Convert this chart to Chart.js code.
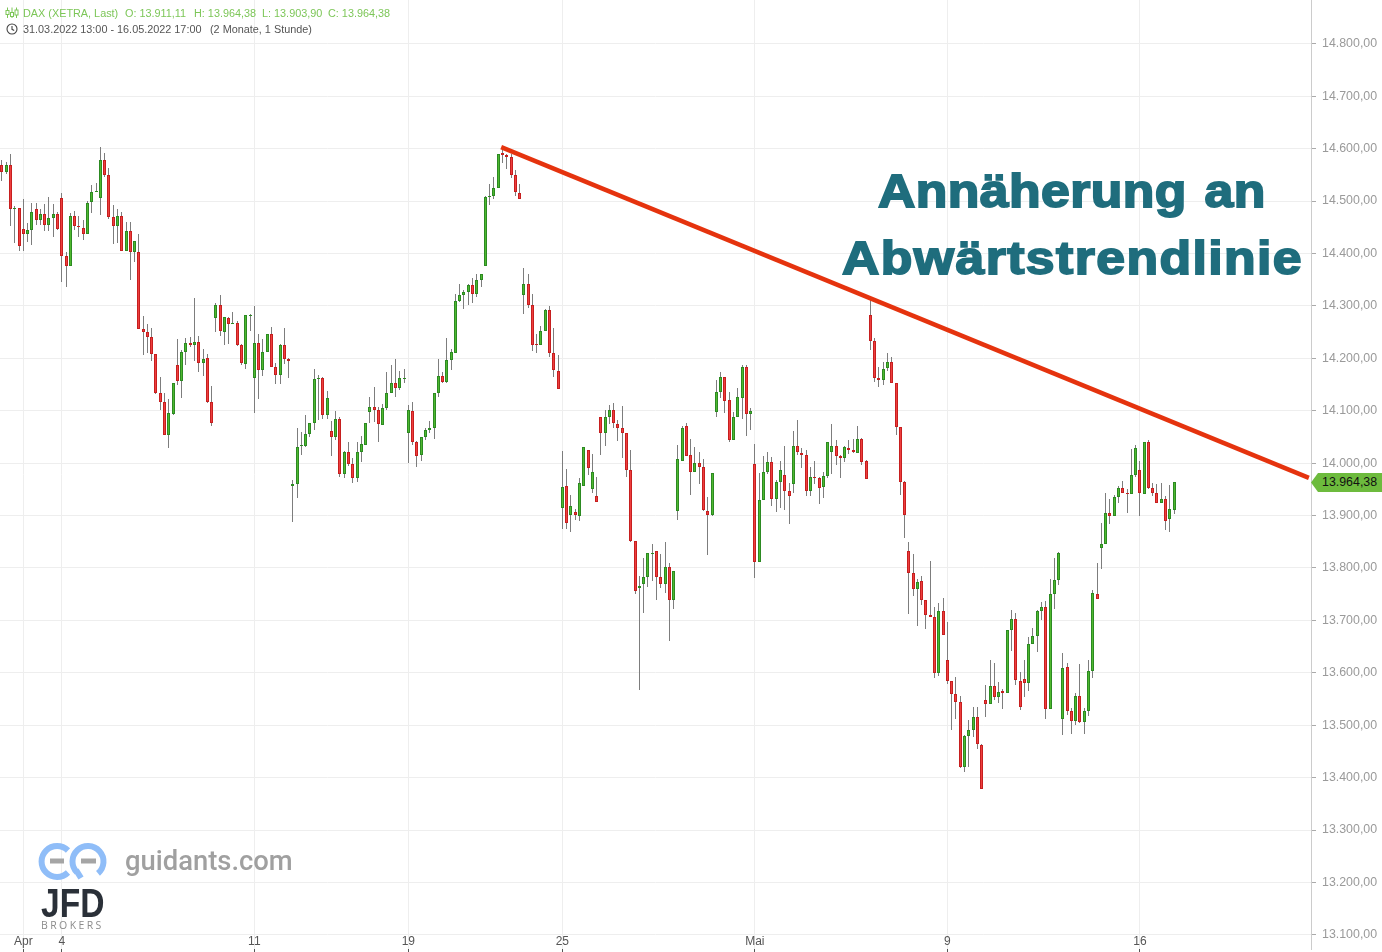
<!DOCTYPE html>
<html><head><meta charset="utf-8">
<script src="https://cdn.jsdelivr.net/npm/chart.js@4"></script>
<style>
html,body{margin:0;padding:0;background:#fff;overflow:hidden}
#wrap{position:relative;width:1382px;height:952px;font-family:"Liberation Sans",Arial,sans-serif}
canvas{position:absolute;left:0;top:0}
.t{position:absolute;white-space:pre;line-height:14px;font-size:10.85px}
.g{color:#7cc657}.d{color:#555}
.big{position:absolute;white-space:pre;font-family:"Liberation Sans";font-weight:700;font-size:46px;color:#1f6d7d;line-height:60px;letter-spacing:1.25px;-webkit-text-stroke:1.8px #1f6d7d;transform:scaleX(1.125);transform-origin:0 0}
#tag{position:absolute;left:1311px;top:473px;width:71px;height:19px;background:#6dbb3d;clip-path:polygon(0 50%,7px 0,100% 0,100% 100%,7px 100%);}
#tag span{position:absolute;left:11px;top:2px;font-size:12.4px;line-height:15px;color:#111}
</style></head><body>
<div id="wrap">
<canvas id="c" width="1382" height="952"></canvas>
<svg style="position:absolute;left:5px;top:7px" width="14" height="28" viewBox="0 0 14 28" fill="none">
<g stroke="#7cc657" stroke-width="1"><path d="M2.5 0.5V11M7 0.5V11M11.5 0.5V11"/><rect x="1" y="3.5" width="3" height="4" fill="#fff"/><rect x="5.5" y="5.5" width="3" height="4" fill="#fff"/><rect x="10" y="3" width="3" height="5" fill="#fff"/></g>
<g stroke="#444" stroke-width="1.1"><circle cx="7" cy="22" r="5"/><path d="M7 19V22.3L9.2 23.5"/></g></svg>
<div class="t g" style="left:23px;top:6px">DAX (XETRA, Last)</div>
<div class="t g" style="left:125px;top:6px">O: 13.911,11</div>
<div class="t g" style="left:194px;top:6px">H: 13.964,38</div>
<div class="t g" style="left:262px;top:6px">L: 13.903,90</div>
<div class="t g" style="left:328px;top:6px">C: 13.964,38</div>
<div class="t d" style="left:23px;top:22px">31.03.2022 13:00 - 16.05.2022 17:00</div>
<div class="t d" style="left:210px;top:22px">(2 Monate, 1 Stunde)</div>
<div class="big" style="left:878px;top:160.5px;letter-spacing:.35px;word-spacing:2.7px">Annäherung an</div>
<div class="big" style="left:842px;top:228px">Abwärtstrendlinie</div>
<div id="tag"><span>13.964,38</span></div>
<svg style="position:absolute;left:36px;top:840px" width="74" height="44" viewBox="0 0 74 44" fill="none">
<g stroke="#8fbdf8" stroke-width="6"><path d="M32 10.5A15.5 15.5 0 1 0 32 32.5"/><path d="M41 32.5A15.5 15.5 0 1 1 62 33.4"/><path d="M40 30L45 38"/></g>
<g stroke="#a5a5a5" stroke-width="5"><path d="M14 21H28M45 21H60"/></g></svg>
<div style="position:absolute;left:125px;top:844px;font:500 27.4px/34px Roboto;color:#a0a0a0">guidants.com</div>
<div style="position:absolute;left:41px;top:883px;font:700 40px/40px 'Liberation Sans';color:#2a3038;transform:scaleX(.84);transform-origin:0 0">JFD</div>
<div style="position:absolute;left:41px;top:919px;font:400 10.5px/12px 'Open Sans';color:#8c8c8c;letter-spacing:2.4px">BROKERS</div>
</div>
<script>
const opens=[14568,14556,14569,14484,14486,14447,14438,14445,14484,14463,
14476,14455,14468,14476,14505,14396,14377,14472,14453,14449,
14438,14499,14517,14505,14579,14549,14470,14453,14472,14405,
14442,14403,14402,14255,14251,14241,14209,14133,14117,14054,
14094,14188,14157,14213,14230,14226,14232,14192,14201,14117,
14276,14302,14251,14276,14266,14268,14226,14190,14281,14163,
14230,14178,14213,14247,14184,14169,14226,14199,13956,13961,
14033,14033,14056,14077,14161,14163,14091,14062,14050,14085,
13979,14022,13999,13972,14022,14035,14098,14108,14102,14073,
14106,14134,14152,14144,14161,14058,14100,14041,14016,14050,
14064,14068,14133,14167,14154,14197,14211,14310,14321,14327,
14339,14323,14350,14377,14507,14510,14524,14592,14587,14585,
14549,14516,14321,14341,14302,14227,14226,14253,14293,14211,
14176,13915,13956,13901,13906,13899,13956,14026,13950,13937,
14088,14057,14089,14101,14074,14068,14057,13986,13851,13761,
13769,13782,13827,13832,13782,13769,13801,13738,13908,14005,
14070,14015,13983,14000,13992,13908,13902,14097,14135,14164,
14120,14044,14089,14124,14183,14093,13998,13811,13929,13984,
14002,13931,13964,13977,13946,13960,14032,14019,14015,13946,
13973,13971,13954,13975,14021,14032,14013,14009,14028,14026,
14019,14046,14004,14283,14233,14162,14159,14181,14193,14153,
14069,13964,13832,13790,13760,13775,13739,13710,13706,13600,
13718,13624,13584,13559,13544,13420,13479,13491,13516,13462,
13548,13540,13575,13554,13565,13562,13682,13703,13584,13588,
13581,13655,13670,13718,13726,13531,13750,13777,13512,13611,
13527,13508,13556,13506,13527,13604,13750,13838,13846,13905,
13899,13936,13953,13943,13941,13978,13987,13941,14040,13953,
13943,13924,13932,13894,13911.11];
const closes=[14556,14569,14484,14486,14415,14438,14445,14480,14463,14476,
14455,14468,14476,14447,14396,14377,14472,14453,14451,14438,
14497,14518,14519,14579,14549,14470,14453,14472,14405,14442,
14403,14424,14255,14251,14241,14209,14133,14117,14054,14096,
14152,14157,14213,14230,14226,14232,14192,14199,14117,14077,
14302,14253,14278,14266,14268,14226,14192,14283,14283,14230,
14178,14213,14247,14184,14169,14226,14199,14194,13961,14031,
14034,14056,14077,14161,14163,14091,14125,14050,14085,13979,
14022,13998,13972,14022,14037,14077,14108,14102,14075,14106,
14134,14152,14144,14163,14163,14102,14041,14014,14050,14064,
14068,14133,14167,14154,14197,14213,14310,14321,14327,14339,
14323,14350,14361,14507,14510,14524,14590,14587,14585,14549,
14518,14503,14341,14302,14226,14225,14253,14293,14211,14178,
14142,13954,13885,13918,13902,13962,14030,13990,13983,13925,
14057,14089,14101,14076,14068,14057,13986,13851,13757,13765,
13782,13828,13829,13782,13769,13801,13738,13794,14007,14068,
14013,13983,14000,13992,13910,13902,13981,14135,14164,14118,
14044,14089,14126,14183,14093,14099,13811,13929,13984,14002,
13931,13964,13986,13946,13938,14032,14021,14015,13946,13973,
13971,13952,13975,14040,14032,14013,14009,14030,14026,14021,
14046,14003,13969,14233,14162,14158,14180,14193,14153,14069,
13964,13901,13790,13760,13773,13739,13710,13706,13600,13718,
13672,13584,13559,13544,13420,13479,13491,13516,13464,13378,
13540,13575,13554,13563,13562,13682,13703,13586,13535,13581,
13655,13670,13718,13726,13531,13750,13777,13829,13609,13527,
13508,13556,13506,13527,13604,13752,13741,13846,13905,13899,
13936,13953,13943,13941,13978,14029,13943,14040,13953,13943,
13924,13932,13890,13913,13964.38];
const highs=[14579,14575,14590,14491,14487,14503,14459,14497,14497,14484,
14495,14507,14495,14480,14516,14402,14478,14482,14472,14463,
14501,14531,14535,14604,14592,14564,14493,14484,14480,14461,
14461,14424,14438,14281,14266,14258,14209,14165,14133,14123,
14152,14236,14215,14238,14241,14316,14243,14217,14209,14148,
14306,14321,14278,14279,14289,14272,14228,14283,14285,14299,
14247,14236,14247,14260,14192,14228,14258,14201,13968,14068,
14060,14091,14077,14180,14169,14165,14138,14081,14100,14089,
14024,14041,14009,14041,14052,14077,14127,14146,14108,14112,
14173,14188,14199,14176,14180,14110,14117,14043,14050,14068,
14080,14133,14199,14173,14238,14218,14323,14341,14331,14342,
14354,14360,14361,14510,14533,14545,14590,14600,14590,14589,
14560,14533,14373,14361,14323,14247,14262,14295,14299,14258,
14207,14023,13988,13939,13912,13971,14030,14026,14017,13973,
14088,14101,14110,14114,14082,14109,14057,14025,13851,13784,
13820,13828,13845,13832,13826,13849,13809,13794,14034,14070,
14076,14047,14030,14021,14007,13935,13981,14158,14173,14164,
14135,14097,14143,14187,14187,14105,14036,13981,14013,14021,
14011,13967,14004,14032,13962,14061,14082,14028,14025,13992,
14004,13973,13984,14040,14074,14044,14015,14032,14044,14046,
14071,14048,14006,14313,14239,14183,14193,14210,14202,14153,
14069,13966,13849,13827,13779,13785,13739,13813,13725,13733,
13743,13697,13584,13592,13556,13481,13510,13535,13535,13464,
13577,13624,13619,13582,13569,13682,13720,13714,13602,13625,
13668,13686,13720,13735,13737,13779,13819,13831,13638,13619,
13533,13562,13617,13533,13625,13758,13810,13886,13943,13932,
13939,13957,13966,13951,14027,14035,14004,14040,14044,13962,
13960,13962,13937,13958,13964.38];
const lows=[14538,14552,14452,14420,14405,14405,14422,14416,14454,14455,
14443,14443,14431,14445,14346,14336,14377,14445,14431,14426,
14438,14477,14517,14473,14546,14466,14418,14420,14405,14405,
14349,14384,14255,14206,14210,14195,14131,14101,14054,14029,
14092,14149,14124,14187,14222,14195,14174,14166,14115,14071,
14250,14243,14225,14227,14265,14223,14187,14180,14253,14096,
14122,14166,14213,14184,14151,14151,14190,14162,13888,13933,
14016,14031,14049,14063,14082,14084,14084,14014,14044,13974,
13972,13995,13962,13964,14002,14035,14077,14079,14040,14073,
14102,14134,14127,14140,14152,14000,14035,13993,14004,14045,
14058,14047,14127,14152,14152,14178,14211,14307,14294,14302,
14306,14317,14336,14377,14493,14503,14524,14573,14561,14544,
14510,14503,14285,14296,14214,14210,14225,14253,14203,14164,
14142,13875,13875,13869,13892,13890,13956,13977,13944,13925,
14016,14033,14074,14068,14043,14009,13974,13850,13751,13568,
13715,13764,13776,13738,13761,13753,13661,13722,13892,14005,
14013,13940,13983,13961,13909,13824,13899,14089,14125,14096,
14041,14044,14089,14084,14051,14064,13780,13811,13929,13980,
13919,13907,13915,13911,13883,13944,14016,13990,13938,13938,
13961,13923,13934,13971,13980,13997,13972,14002,14017,14019,
14019,13996,13969,14215,14154,14145,14150,14175,14152,14053,
13940,13858,13713,13746,13690,13729,13683,13706,13591,13593,
13672,13578,13490,13511,13418,13410,13421,13477,13454,13378,
13515,13540,13549,13542,13531,13562,13641,13576,13530,13553,
13565,13655,13639,13701,13512,13531,13722,13767,13481,13519,
13483,13500,13504,13483,13517,13590,13741,13798,13846,13883,
13899,13924,13943,13904,13941,13974,13899,13941,13951,13937,
13924,13924,13872,13868,13903.90];
const xTickPositions=[5,14,59,95,131,176,221,266];
const xTickLabels=["Apr","4","11","19","25","Mai","9","16"];
const yTickValues=[14800,14700,14600,14500,14400,14300,14200,14100,14000,13900,13800,13700,13600,13500,13400,13300,13200,13100];
const yTickLabels=["14.800,00","14.700,00","14.600,00","14.500,00","14.400,00","14.300,00","14.200,00","14.100,00","14.000,00","13.900,00","13.800,00","13.700,00","13.600,00","13.500,00","13.400,00","13.300,00","13.200,00","13.100,00"];
const trendX=[116.7,305.5];
const trendY=[14603,13972];

const isUp=i=>closes[i]>=opens[i];
const snap={id:'snap',beforeDatasetsDraw(ch){
  ch.data.datasets.forEach((ds,k)=>{
    if(ds.type==='line')return;
    ch.getDatasetMeta(k).data.forEach(el=>{
      el.x=Math.floor(el.x)+0.5;
      el.y=Math.round(el.y);el.base=Math.round(el.base);
      if(el.y===el.base)el.base=el.y+1;
    });
  });
}};
const noPad=s=>{s.paddingTop=0;s.paddingBottom=0;s.paddingLeft=0;s.paddingRight=0};
new Chart(document.getElementById('c'),{
  type:'bar',
  plugins:[snap],
  data:{datasets:[
    {type:'line',order:0,data:trendX.map((x,i)=>({x,y:trendY[i]})),borderColor:'#e5330e',borderWidth:4.5,pointRadius:0,borderCapStyle:'butt',tension:0},
    {order:1,data:opens.map((o,i)=>({x:i,y:[o,closes[i]]})),barThickness:3,borderWidth:1,borderSkipped:false,inflateAmount:0,grouped:false,
      backgroundColor:opens.map((o,i)=>isUp(i)?'#4fb82f':'#ee3e3e'),borderColor:opens.map((o,i)=>isUp(i)?'#2c8a22':'#c61f1f')},
    {order:2,data:lows.map((l,i)=>({x:i,y:[l,highs[i]]})),barThickness:1,borderWidth:0,inflateAmount:0,grouped:false,backgroundColor:'#7d7d7d'}
  ]},
  options:{
    responsive:false,animation:false,devicePixelRatio:1,
    layout:{padding:0},
    plugins:{legend:{display:false},tooltip:{enabled:false}},
    scales:{
      x:{type:'linear',bounds:'data',offset:false,min:-0.4535,max:306,position:'bottom',
        afterFit(s){s.height=3;noPad(s)},
        afterBuildTicks(s){s.ticks=xTickPositions.map(value=>({value}))},
        grid:{offset:false,color:'#eeeeee',lineWidth:1,tickColor:'#555',tickLength:3,drawTicks:true},
        border:{display:false},
        ticks:{autoSkip:false,maxRotation:0,mirror:true,padding:0,color:'#555',font:{family:'"Liberation Sans"',size:12},
          callback:v=>xTickLabels[xTickPositions.indexOf(v)]}},
      y:{type:'linear',bounds:'data',position:'right',min:13073.1,max:14883.6,beginAtZero:false,
        afterFit(s){s.width=71;noPad(s)},
        afterBuildTicks(s){s.ticks=yTickValues.map(value=>({value}))},
        grid:{color:'#eeeeee',lineWidth:1,tickColor:'#aaa',tickLength:5},
        border:{display:true,color:'#cccccc',width:1},
        ticks:{autoSkip:false,padding:6,color:'#9a9a9a',crossAlign:'near',font:{family:'"Liberation Sans"',size:12.4},
          callback:v=>yTickLabels[yTickValues.indexOf(v)]}}
    }
  }
});
</script>
</body></html>
